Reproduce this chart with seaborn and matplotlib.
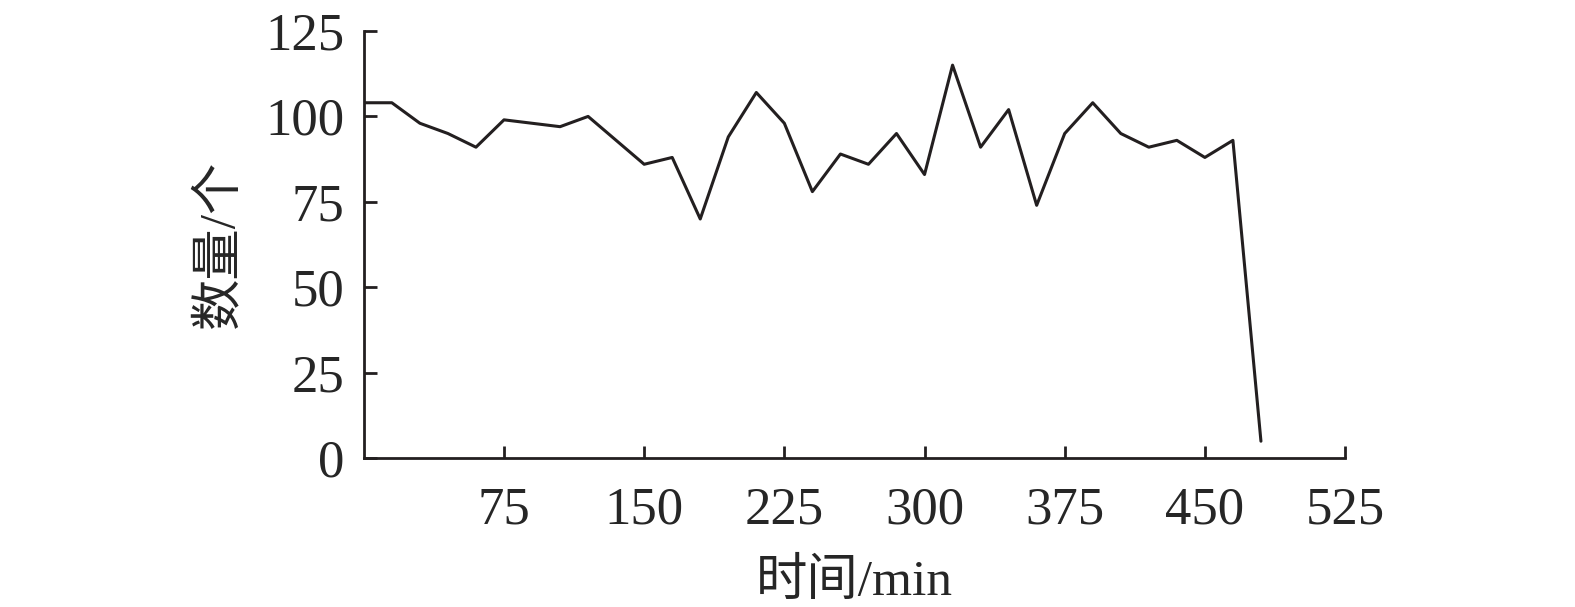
import pandas as pd
import seaborn as sns
import matplotlib
matplotlib.use("Agg")
import matplotlib.pyplot as plt

# 15-minute sampling, counts
minutes = list(range(0, 481, 15))
counts = [104, 104, 98, 95, 91, 99, 98, 97, 100, 93, 86, 88, 70, 94, 107, 98, 78,
          89, 86, 95, 83, 115, 91, 102, 74, 95, 104, 95, 91, 93, 88, 93, 5]
x_ticks = [75, 150, 225, 300, 375, 450, 525]
y_ticks = [0, 25, 50, 75, 100, 125]

df = pd.DataFrame({"time": minutes, "count": counts})

sns.set_style("ticks")
plt.rcParams["font.family"] = ["Liberation Serif", "Noto Sans CJK SC"]

fig = plt.figure(figsize=(15.75, 6.07), dpi=100)
ax = fig.add_axes([0.231, 0.245, 0.623, 0.704])

sns.lineplot(data=df, x="time", y="count", color="#231f20", linewidth=2.2, ax=ax)

ax.set_xlim(0, 525)
ax.set_ylim(0, 125)
ax.set_xticks(x_ticks)
ax.set_yticks(y_ticks)
ax.tick_params(direction="in", length=9, width=2, labelsize=38, color="#231f20")
ax.tick_params(axis="x", pad=20)
ax.tick_params(axis="y", pad=14)
sns.despine(ax=ax)
for side in ["left", "bottom"]:
    ax.spines[side].set_linewidth(2)
    ax.spines[side].set_color("#231f20")

ax.set_xlabel("时间/min", fontsize=37, labelpad=18)
ax.set_ylabel("数量/个", fontsize=37, labelpad=16)

plt.savefig("out.png", dpi=100)
